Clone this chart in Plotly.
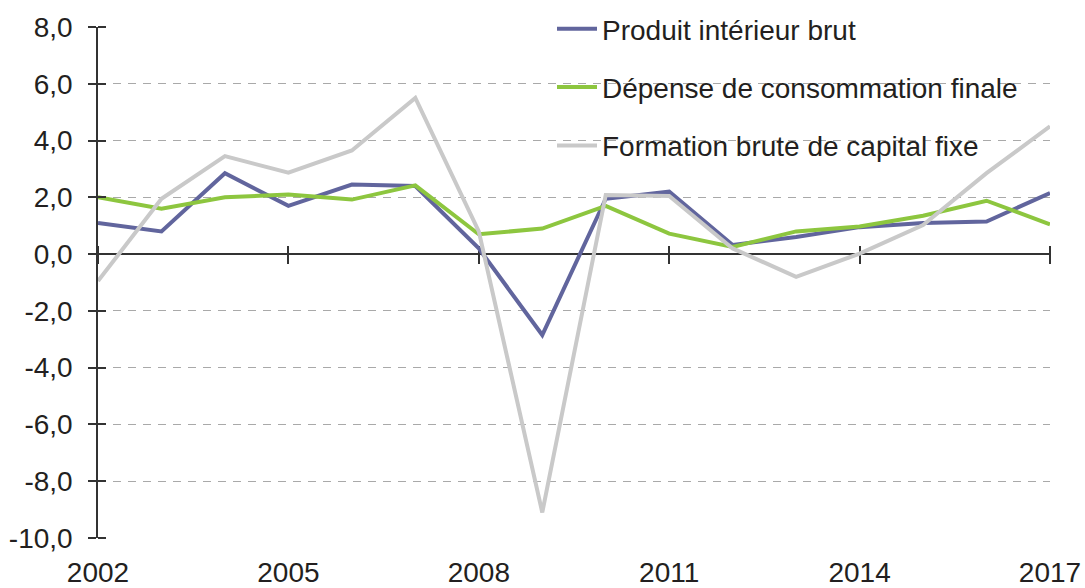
import plotly.graph_objects as go

years = list(range(2002, 2018))
pib = [1.1, 0.8, 2.85, 1.7, 2.45, 2.4, 0.2, -2.85, 1.95, 2.2, 0.32, 0.6, 0.95, 1.1, 1.15, 2.15]
depense = [2.0, 1.6, 2.0, 2.1, 1.92, 2.42, 0.7, 0.9, 1.7, 0.72, 0.25, 0.8, 0.97, 1.35, 1.88, 1.05]
fbcf = [-0.95, 1.95, 3.45, 2.87, 3.65, 5.5, 0.8, -9.1, 2.08, 2.05, 0.2, -0.8, 0.02, 1.02, 2.85, 4.5]

series_names = ["Produit intérieur brut", "Dépense de consommation finale", "Formation brute de capital fixe"]
series_colors = ["#61659d", "#8dc63f", "#c9c9c9"]

x_tick_vals = [2002, 2005, 2008, 2011, 2014, 2017]
x_tick_labels = ["2002", "2005", "2008", "2011", "2014", "2017"]
y_tick_vals = [-10, -8, -6, -4, -2, 0, 2, 4, 6, 8]
y_tick_labels = ["-10,0", "-8,0", "-6,0", "-4,0", "-2,0", "0,0", "2,0", "4,0", "6,0", "8,0"]

FONT = "Liberation Sans, Arial, sans-serif"
TXT = "#231f20"
AX = "#333333"
FS = 28

PW, PH = 952, 511  # plot area size in px

fig = go.Figure()
for i, (name, vals, col) in enumerate(zip(series_names, [pib, depense, fbcf], series_colors)):
    fig.add_trace(go.Scatter(x=years, y=vals, mode="lines", name=name,
                             line=dict(color=col, width=4), legendgroup=f"g{i}"))

# dummy traces so that the overlay axes are drawn
for xa, ya in [("x2", "y"), ("x3", "y"), ("x", "y2")]:
    fig.add_trace(go.Scatter(x=[years[0]], y=[0], xaxis=xa, yaxis=ya, showlegend=False,
                             hoverinfo="skip", mode="lines", line=dict(width=0)))

zero_pos = (0 - y_tick_vals[0]) / (y_tick_vals[-1] - y_tick_vals[0])

fig.update_layout(
    width=1085, height=588,
    margin=dict(l=98, r=35, t=27, b=50, autoexpand=False),
    paper_bgcolor="white", plot_bgcolor="white",
    font=dict(family=FONT, size=FS, color=TXT),
    showlegend=True,
    legend=dict(x=(552 - 98) / PW, xanchor="left", y=1.045, yanchor="top",
                bgcolor="rgba(0,0,0,0)", font=dict(size=FS, color=TXT),
                itemwidth=40, tracegroupgap=19, traceorder="grouped"),
    xaxis=dict(range=[2002, 2017], tickvals=x_tick_vals, ticktext=x_tick_labels,
               showgrid=False, zeroline=False, showline=False, ticks="",
               automargin=False, ticklabelstandoff=15, tickfont=dict(size=FS, color=TXT)),
    xaxis2=dict(range=[2002, 2017], overlaying="x", anchor="free", position=zero_pos,
                tickvals=x_tick_vals, showticklabels=False, showgrid=False, zeroline=False,
                automargin=False,
                showline=True, linecolor=AX, linewidth=1.5, ticks="outside", ticklen=9,
                tickwidth=1.5, tickcolor=AX, layer="below traces"),
    xaxis3=dict(range=[2002, 2017], overlaying="x", anchor="free",
                position=zero_pos + 9 / PH, automargin=False,
                tickvals=x_tick_vals, showticklabels=False, showgrid=False, zeroline=False,
                showline=False, ticks="outside", ticklen=9, tickwidth=1.5, tickcolor=AX,
                layer="below traces"),
    yaxis=dict(range=[-10, 8], tickvals=y_tick_vals, ticktext=y_tick_labels,
               showgrid=True, gridcolor="#a9a9a9", gridwidth=1, griddash="8px,7px",
               zeroline=False, showline=True, linecolor=AX, linewidth=1.5,
               ticks="outside", ticklen=8, tickwidth=1.5, tickcolor=AX, automargin=False,
               ticklabelstandoff=10, tickfont=dict(size=FS, color=TXT),
               layer="below traces"),
    yaxis2=dict(range=[-10, 8], overlaying="y", side="left", anchor="free",
                position=8 / PW, automargin=False,
                tickvals=y_tick_vals, showticklabels=False, showgrid=False, zeroline=False,
                showline=False, ticks="outside", ticklen=8, tickwidth=1.5, tickcolor=AX),
    shapes=[dict(type="rect", xref="paper", yref="paper",
                 x0=(525 - 98) / PW, x1=1.0, y0=(538 - 165) / PH, y1=1.03,
                 fillcolor="white", line=dict(width=0), layer="between")],
)

fig.write_html("out.html", config={"displayModeBar": False},
               post_script="document.body.style.margin='0';document.body.style.overflow='hidden';")
